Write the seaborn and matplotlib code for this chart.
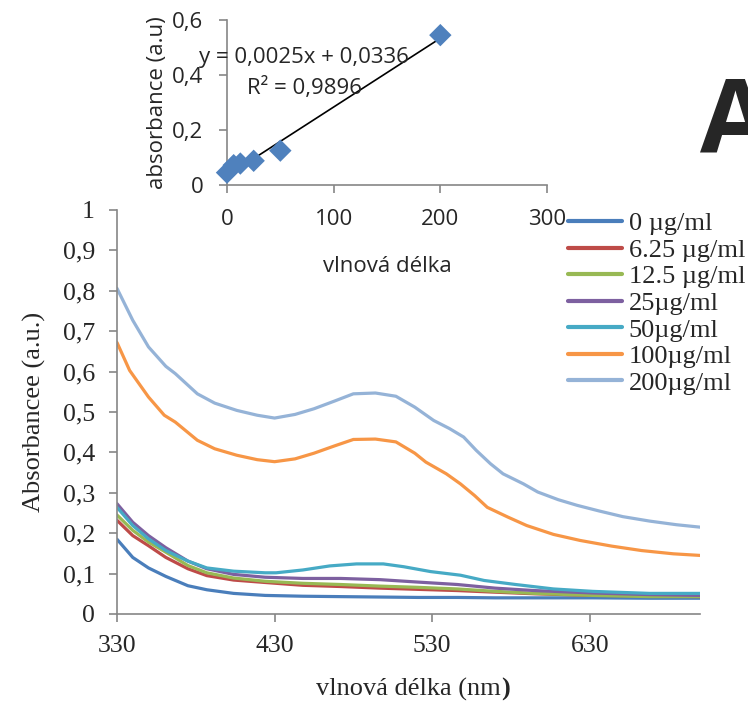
import numpy as np
import pandas as pd
import matplotlib
matplotlib.use("Agg")
import matplotlib.pyplot as plt
import seaborn as sns

# ---------------- data ----------------
labels = ["0 µg/ml", "6.25 µg/ml", "12.5 µg/ml", "25µg/ml", "50µg/ml", "100µg/ml", "200µg/ml"]
colors = ["#4A7EBB", "#BE4B48", "#98B954", "#7D60A0", "#46AAC5", "#F79646", "#95B3D7"]

wl_low = [330, 340, 350, 361, 375, 387, 404, 424, 448, 472, 497, 521, 546, 570, 595, 632, 668, 700]
abs_0 = [0.185, 0.140, 0.114, 0.093, 0.070, 0.060, 0.051, 0.046, 0.044, 0.043, 0.042, 0.041, 0.041, 0.040, 0.040, 0.040, 0.039, 0.039]
abs_625 = [0.232, 0.194, 0.169, 0.140, 0.112, 0.095, 0.084, 0.078, 0.071, 0.068, 0.064, 0.061, 0.058, 0.054, 0.050, 0.046, 0.045, 0.043]
abs_125 = [0.245, 0.207, 0.178, 0.153, 0.120, 0.102, 0.089, 0.081, 0.076, 0.073, 0.069, 0.066, 0.062, 0.056, 0.051, 0.046, 0.043, 0.043]
abs_25 = [0.273, 0.227, 0.194, 0.164, 0.131, 0.112, 0.098, 0.091, 0.088, 0.088, 0.085, 0.079, 0.073, 0.064, 0.058, 0.052, 0.048, 0.046]

wl_50 = [330, 340, 350, 361, 375, 387, 404, 424, 431, 448, 465, 482, 499, 512, 529, 548, 563, 583, 607, 632, 668, 700]
abs_50 = [0.264, 0.219, 0.186, 0.157, 0.131, 0.114, 0.106, 0.102, 0.102, 0.109, 0.119, 0.124, 0.124, 0.117, 0.105, 0.096, 0.083, 0.073, 0.062, 0.056, 0.051, 0.051]

wl_100 = [330, 338, 350, 360, 367, 381, 392, 406, 419, 430, 443, 455, 468, 480, 494, 507, 519, 526, 539, 548, 557, 565, 578, 590, 607, 624, 644, 663, 683, 700]
abs_100 = [0.672, 0.603, 0.537, 0.492, 0.475, 0.430, 0.409, 0.393, 0.382, 0.377, 0.384, 0.398, 0.416, 0.432, 0.433, 0.426, 0.398, 0.376, 0.347, 0.322, 0.293, 0.264, 0.240, 0.219, 0.197, 0.182, 0.168, 0.157, 0.149, 0.145]

wl_200 = [330, 340, 350, 361, 367, 381, 392, 406, 419, 430, 443, 455, 468, 480, 494, 507, 519, 531, 541, 550, 558, 567, 575, 588, 597, 610, 622, 636, 651, 668, 685, 700]
abs_200 = [0.806, 0.727, 0.661, 0.613, 0.595, 0.545, 0.522, 0.504, 0.492, 0.485, 0.494, 0.508, 0.527, 0.545, 0.547, 0.539, 0.512, 0.479, 0.459, 0.438, 0.405, 0.372, 0.347, 0.322, 0.302, 0.283, 0.269, 0.255, 0.241, 0.230, 0.221, 0.215]

main_xticks = [330, 430, 530, 630]
main_yticks = [0, 0.1, 0.2, 0.3, 0.4, 0.5, 0.6, 0.7, 0.8, 0.9, 1.0]
main_yticklabels = ["0", "0,1", "0,2", "0,3", "0,4", "0,5", "0,6", "0,7", "0,8", "0,9", "1"]

cal_conc = [0, 6.25, 12.5, 25, 50, 200]
cal_abs = [0.045, 0.072, 0.078, 0.088, 0.125, 0.545]
fit_slope = 0.0025
fit_intercept = 0.0336
fit_range = [0, 200]
inset_xticks = [0, 100, 200, 300]
inset_yticks = [0, 0.2, 0.4, 0.6]
inset_yticklabels = ["0", "0,2", "0,4", "0,6"]

# ---------------- build table ----------------
series = [(wl_low, abs_0), (wl_low, abs_625), (wl_low, abs_125), (wl_low, abs_25),
          (wl_50, abs_50), (wl_100, abs_100), (wl_200, abs_200)]
frames = []
for lab, (w, a) in zip(labels, series):
    frames.append(pd.DataFrame({"nm": w, "abs": a, "conc": lab}))
df = pd.concat(frames, ignore_index=True)
cal_df = pd.DataFrame({"conc": cal_conc, "abs": cal_abs})

# ---------------- style ----------------
sns.set_style("white")
plt.rcParams["font.family"] = ["Liberation Serif", "DejaVu Serif"]
gray = "#868686"
FS = 19

fig = plt.figure(figsize=(7.48, 7.02), dpi=100)
ax = fig.add_axes([117 / 748, (702 - 614) / 702, (700 - 117) / 748, (614 - 210) / 702])

sns.lineplot(data=df, x="nm", y="abs", hue="conc", hue_order=labels,
             palette=dict(zip(labels, colors)), linewidth=2.3, sort=True,
             estimator=None, ax=ax, legend=True)

ax.set_xlim(330, 700)
ax.set_ylim(0, 1)
ax.set_xticks(main_xticks)
ax.set_xticklabels([str(v) for v in main_xticks])
ax.set_yticks(main_yticks)
ax.set_yticklabels(main_yticklabels)
for s in ["top", "right"]:
    ax.spines[s].set_visible(False)
for s in ["left", "bottom"]:
    ax.spines[s].set_color(gray)
    ax.spines[s].set_linewidth(1.2)
ax.tick_params(axis="both", direction="out", length=6, width=1.2, color=gray,
               labelsize=18.5, pad=10, left=True, bottom=True)
ax.tick_params(axis="x", pad=9)
ax.set_ylabel("Absorbancee (a.u.)", fontsize=FS, labelpad=12)
xl = ax.set_xlabel("vlnová délka (nm", fontsize=FS, labelpad=15)
ax.annotate(")", xy=(1, 0), xycoords=xl, ha="left", va="bottom",
            fontsize=FS, fontweight="bold")

handles, labs = ax.get_legend_handles_labels()
leg = ax.legend(handles, labs, loc="upper left", bbox_to_anchor=(568 / 748, (702 - 212) / 702),
                bbox_transform=fig.transFigure, frameon=False, fontsize=FS,
                handlelength=2.05, handletextpad=0.25, labelspacing=0.115,
                borderpad=0, borderaxespad=0)
for h in leg.get_lines():
    h.set_linewidth(3)

# ---------------- inset ----------------
ax_in = fig.add_axes([227 / 748, (702 - 185) / 702, (547 - 227) / 748, (185 - 20) / 702])
ax_in.patch.set_alpha(0)
xfit = np.array(fit_range, dtype=float)
ax_in.plot(xfit, fit_slope * xfit + fit_intercept, color="black", linewidth=1.2, zorder=2)
sns.scatterplot(data=cal_df, x="conc", y="abs", marker="D", s=130, color="#4F81BD",
                edgecolor="none", ax=ax_in, zorder=3, clip_on=False)
ax_in.set_xlim(0, 300)
ax_in.set_ylim(0, 0.6)
ax_in.set_xticks(inset_xticks)
ax_in.set_xticklabels([str(v) for v in inset_xticks])
ax_in.set_yticks(inset_yticks)
ax_in.set_yticklabels(inset_yticklabels)
for s in ["top", "right"]:
    ax_in.spines[s].set_visible(False)
for s in ["left", "bottom"]:
    ax_in.spines[s].set_color(gray)
    ax_in.spines[s].set_linewidth(1.2)
sans = ["Open Sans", "DejaVu Sans"]
IFS = 16
ax_in.tick_params(axis="both", direction="out", length=6, width=1.2, color=gray,
                  labelsize=IFS, left=True, bottom=True, pad=11)
ax_in.tick_params(axis="x", pad=11)
for t in ax_in.get_xticklabels() + ax_in.get_yticklabels():
    t.set_family(sans)
ax_in.set_xlabel("vlnová délka", fontsize=IFS, family=sans, labelpad=19)
ax_in.set_ylabel("absorbance (a.u)", fontsize=IFS, family=sans, labelpad=3)
ax_in.text(72, 0.462, "y = 0,0025x + 0,0336", fontsize=IFS, family=sans,
           ha="center", va="center", zorder=4)
ax_in.text(73, 0.353, "R² = 0,9896", fontsize=IFS, family=sans,
           ha="center", va="center", zorder=4)

fig.text(700 / 748, (702 - 152) / 702, "A", fontsize=74, fontweight="bold",
         family=["Open Sans", "DejaVu Sans"], ha="left", va="baseline")

fig.savefig("out.png", dpi=100)
